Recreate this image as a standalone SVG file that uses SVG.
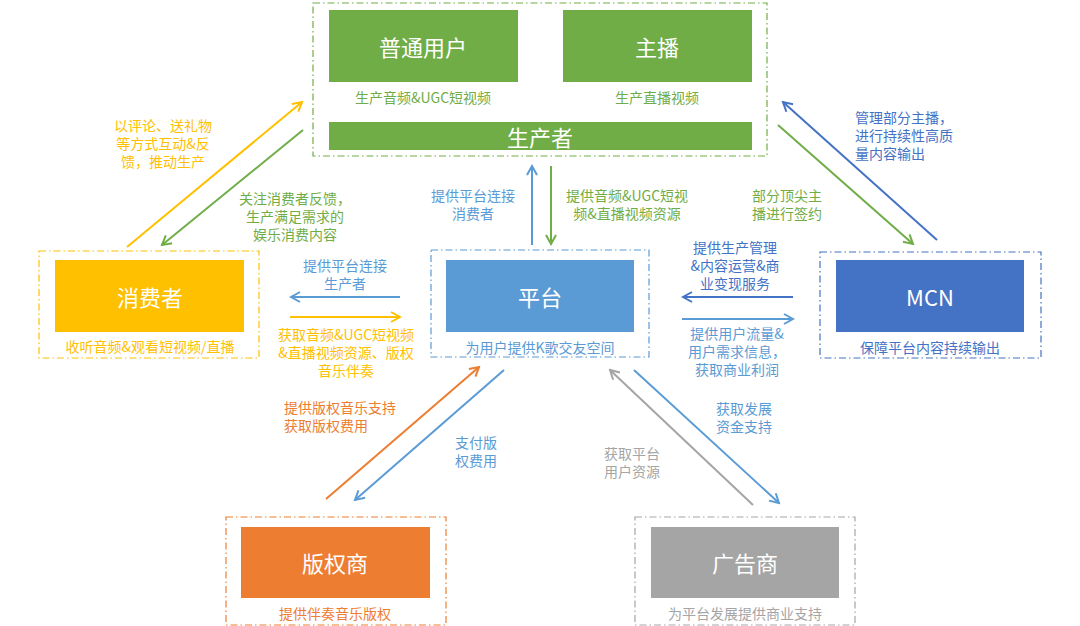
<svg xmlns="http://www.w3.org/2000/svg" width="1080" height="626" viewBox="0 0 1080 626">
<style>
text{font-family:"Microsoft YaHei","Noto Sans CJK SC","Noto Sans",sans-serif;}
.t{font-size:22px;fill:#fff;text-anchor:middle;dominant-baseline:central;}
.c{font-size:14px;text-anchor:middle;dominant-baseline:central;}
.l{font-size:14px;dominant-baseline:central;}
.m{text-anchor:middle;}
.frame{fill:none;stroke-width:1.2;stroke-dasharray:7 3 1.5 3;}
.a{fill:none;stroke-width:2;}
</style>
<defs>
<marker id="mY" viewBox="0 0 12 12" refX="10" refY="6" markerWidth="12" markerHeight="12" markerUnits="userSpaceOnUse" orient="auto"><path d="M1,1 L10,6 L1,11" fill="none" stroke="#FFC000" stroke-width="2"/></marker>
<marker id="mG" viewBox="0 0 12 12" refX="10" refY="6" markerWidth="12" markerHeight="12" markerUnits="userSpaceOnUse" orient="auto"><path d="M1,1 L10,6 L1,11" fill="none" stroke="#70AD47" stroke-width="2"/></marker>
<marker id="mB" viewBox="0 0 12 12" refX="10" refY="6" markerWidth="12" markerHeight="12" markerUnits="userSpaceOnUse" orient="auto"><path d="M1,1 L10,6 L1,11" fill="none" stroke="#5B9BD5" stroke-width="2"/></marker>
<marker id="mD" viewBox="0 0 12 12" refX="10" refY="6" markerWidth="12" markerHeight="12" markerUnits="userSpaceOnUse" orient="auto"><path d="M1,1 L10,6 L1,11" fill="none" stroke="#4472C4" stroke-width="2"/></marker>
<marker id="mO" viewBox="0 0 12 12" refX="10" refY="6" markerWidth="12" markerHeight="12" markerUnits="userSpaceOnUse" orient="auto"><path d="M1,1 L10,6 L1,11" fill="none" stroke="#ED7D31" stroke-width="2"/></marker>
<marker id="mA" viewBox="0 0 12 12" refX="10" refY="6" markerWidth="12" markerHeight="12" markerUnits="userSpaceOnUse" orient="auto"><path d="M1,1 L10,6 L1,11" fill="none" stroke="#A5A5A5" stroke-width="2"/></marker>
</defs>
<rect width="1080" height="626" fill="#fff"/>

<g id="producer">
<rect class="frame" x="313" y="3" width="454" height="153" stroke="#70AD47"/>
<rect x="329" y="10" width="189" height="72" fill="#70AD47"/>
<text class="t" x="423" y="46">普通用户</text>
<rect x="563" y="10" width="189" height="72" fill="#70AD47"/>
<text class="t" x="657" y="46">主播</text>
<text class="c" x="423" y="97" fill="#70AD47">生产音频&amp;UGC短视频</text>
<text class="c" x="657" y="97" fill="#70AD47">生产直播视频</text>
<rect x="329" y="122" width="423" height="28" fill="#70AD47"/>
<text class="t" x="540" y="136">生产者</text>
</g>

<g id="consumer">
<rect class="frame" x="39" y="251" width="220" height="107" stroke="#FFC000"/>
<rect x="55" y="260" width="189" height="72" fill="#FFC000"/>
<text class="t" x="150" y="296">消费者</text>
<text class="c" x="150" y="346" fill="#FFC000">收听音频&amp;观看短视频/直播</text>
</g>

<g id="platform">
<rect class="frame" x="431" y="250" width="218" height="107" stroke="#5B9BD5"/>
<rect x="446" y="260" width="188" height="72" fill="#5B9BD5"/>
<text class="t" x="540" y="296">平台</text>
<text class="c" x="540" y="347" fill="#5B9BD5">为用户提供K歌交友空间</text>
</g>

<g id="mcn">
<rect class="frame" x="820" y="252" width="221" height="106" stroke="#4472C4"/>
<rect x="836" y="260" width="188" height="72" fill="#4472C4"/>
<text class="t" x="930" y="296">MCN</text>
<text class="c" x="930" y="347" fill="#4472C4">保障平台内容持续输出</text>
</g>

<g id="copyright">
<rect class="frame" x="226" y="517" width="220" height="108" stroke="#ED7D31"/>
<rect x="241" y="527" width="189" height="71" fill="#ED7D31"/>
<text class="t" x="335" y="562">版权商</text>
<text class="c" x="335" y="613" fill="#ED7D31">提供伴奏音乐版权</text>
</g>

<g id="advertiser">
<rect class="frame" x="635" y="517" width="220" height="108" stroke="#A5A5A5"/>
<rect x="651" y="527" width="188" height="71" fill="#A5A5A5"/>
<text class="t" x="745" y="562">广告商</text>
<text class="c" x="745" y="613" fill="#A5A5A5">为平台发展提供商业支持</text>
</g>

<g id="connectors">
<line class="a" x1="127" y1="247" x2="302" y2="102" stroke="#FFC000" marker-end="url(#mY)"/>
<line class="a" x1="303" y1="130" x2="162" y2="245" stroke="#70AD47" marker-end="url(#mG)"/>
<line class="a" x1="532" y1="245" x2="532" y2="166" stroke="#5B9BD5" marker-end="url(#mB)"/>
<line class="a" x1="551" y1="166" x2="551" y2="244" stroke="#70AD47" marker-end="url(#mG)"/>
<line class="a" x1="937" y1="240" x2="783" y2="102" stroke="#4472C4" marker-end="url(#mD)"/>
<line class="a" x1="778" y1="125" x2="913" y2="244" stroke="#70AD47" marker-end="url(#mG)"/>
<line class="a" x1="400" y1="297" x2="291" y2="297" stroke="#5B9BD5" marker-end="url(#mB)"/>
<line class="a" x1="290" y1="317" x2="400" y2="317" stroke="#FFC000" marker-end="url(#mY)"/>
<line class="a" x1="793" y1="297" x2="683" y2="297" stroke="#4472C4" marker-end="url(#mD)"/>
<line class="a" x1="682" y1="319" x2="793" y2="319" stroke="#5B9BD5" marker-end="url(#mB)"/>
<line class="a" x1="326" y1="499" x2="479" y2="367" stroke="#ED7D31" marker-end="url(#mO)"/>
<line class="a" x1="504" y1="370" x2="355" y2="500" stroke="#5B9BD5" marker-end="url(#mB)"/>
<line class="a" x1="753" y1="505" x2="610" y2="370" stroke="#A5A5A5" marker-end="url(#mA)"/>
<line class="a" x1="634" y1="370" x2="779" y2="503" stroke="#5B9BD5" marker-end="url(#mB)"/>
</g>

<g id="labels">
<text class="l m" fill="#FFC000"><tspan x="163" y="125">以评论、送礼物</tspan><tspan x="163" y="143">等方式互动&amp;反</tspan><tspan x="163" y="161">馈，推动生产</tspan></text>
<text class="l m" fill="#70AD47"><tspan x="295" y="198">关注消费者反馈，</tspan><tspan x="295" y="216">生产满足需求的</tspan><tspan x="295" y="234">娱乐消费内容</tspan></text>
<text class="l m" fill="#5B9BD5"><tspan x="473" y="195">提供平台连接</tspan><tspan x="473" y="213">消费者</tspan></text>
<text class="l m" fill="#70AD47"><tspan x="627" y="195">提供音频&amp;UGC短视</tspan><tspan x="627" y="213">频&amp;直播视频资源</tspan></text>
<text class="l m" fill="#70AD47"><tspan x="787" y="195">部分顶尖主</tspan><tspan x="787" y="213">播进行签约</tspan></text>
<text class="l" fill="#4472C4"><tspan x="855" y="117">管理部分主播，</tspan><tspan x="855" y="135">进行持续性高质</tspan><tspan x="855" y="153">量内容输出</tspan></text>
<text class="l m" fill="#5B9BD5"><tspan x="345" y="265">提供平台连接</tspan><tspan x="345" y="283">生产者</tspan></text>
<text class="l m" fill="#FFC000"><tspan x="346" y="334">获取音频&amp;UGC短视频</tspan><tspan x="346" y="352">&amp;直播视频资源、版权</tspan><tspan x="346" y="370">音乐伴奏</tspan></text>
<text class="l m" fill="#4472C4"><tspan x="735" y="247">提供生产管理</tspan><tspan x="735" y="265">&amp;内容运营&amp;商</tspan><tspan x="735" y="283">业变现服务</tspan></text>
<text class="l m" fill="#5B9BD5"><tspan x="737" y="333">提供用户流量&amp;</tspan><tspan x="737" y="351">用户需求信息，</tspan><tspan x="737" y="369">获取商业利润</tspan></text>
<text class="l" fill="#ED7D31"><tspan x="284" y="407">提供版权音乐支持</tspan><tspan x="284" y="425">获取版权费用</tspan></text>
<text class="l" fill="#5B9BD5"><tspan x="455" y="442">支付版</tspan><tspan x="455" y="460">权费用</tspan></text>
<text class="l" fill="#A5A5A5"><tspan x="604" y="453">获取平台</tspan><tspan x="604" y="471">用户资源</tspan></text>
<text class="l" fill="#5B9BD5"><tspan x="716" y="408">获取发展</tspan><tspan x="716" y="426">资金支持</tspan></text>
</g>
</svg>
